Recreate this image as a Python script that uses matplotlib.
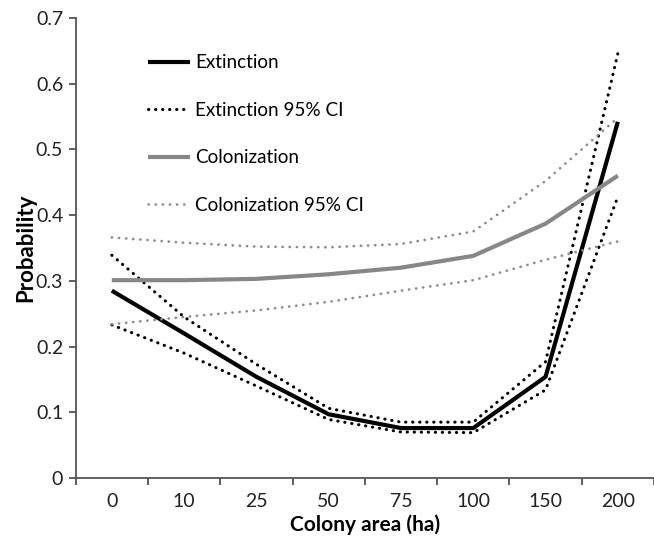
import matplotlib
matplotlib.use("Agg")
import matplotlib.pyplot as plt
import numpy as np

categories = ["0", "10", "25", "50", "75", "100", "150", "200"]
extinction = [0.285, 0.220, 0.154, 0.097, 0.076, 0.076, 0.154, 0.542]
ext_upper = [0.339, 0.245, 0.173, 0.106, 0.085, 0.085, 0.177, 0.646]
ext_lower = [0.233, 0.190, 0.140, 0.089, 0.070, 0.069, 0.134, 0.428]
colonization = [0.301, 0.301, 0.303, 0.310, 0.320, 0.338, 0.387, 0.460]
col_upper = [0.366, 0.358, 0.352, 0.351, 0.356, 0.375, 0.452, 0.548]
col_lower = [0.234, 0.245, 0.255, 0.268, 0.285, 0.301, 0.332, 0.360]

plt.rcParams['font.family'] = ['Lato', 'DejaVu Sans']

fig = plt.figure(figsize=(6.54, 5.4), dpi=100)
ax = fig.add_axes([0.1157, 0.1148, 0.8843, 0.852])

x = np.arange(len(categories))
dot = (0, (0.1, 2.2))
ax.plot(x, extinction, color='black', lw=3.0, label='Extinction', solid_capstyle='butt')
ax.plot(x, ext_upper, color='black', lw=2.2, ls=dot, dash_capstyle='round', label='Extinction 95% CI')
ax.plot(x, ext_lower, color='black', lw=2.2, ls=dot, dash_capstyle='round')
ax.plot(x, colonization, color='#878787', lw=3.0, label='Colonization', solid_capstyle='butt')
ax.plot(x, col_upper, color='#8c8c8c', lw=1.9, ls=(0, (0.1, 2.6)), dash_capstyle='round', label='Colonization 95% CI')
ax.plot(x, col_lower, color='#8c8c8c', lw=1.9, ls=(0, (0.1, 2.6)), dash_capstyle='round')

ax.set_xlim(-0.5, len(categories) - 0.5)
ax.set_ylim(0, 0.7)
ax.set_yticks(np.arange(0, 0.71, 0.1))
ax.set_yticklabels(['0', '0.1', '0.2', '0.3', '0.4', '0.5', '0.6', '0.7'])
ax.set_xticks(np.arange(-0.5, len(categories), 1.0))
ax.set_xticklabels([])
ax.set_xticks(x, minor=True)
ax.set_xticklabels(categories, minor=True)
ax.tick_params(axis='x', which='minor', length=0, pad=11, labelsize=14, colors='#222222')
ax.tick_params(axis='x', which='major', length=5, width=1.2, color='#444444', direction='out')
ax.tick_params(axis='y', length=5, width=1.2, color='#444444', direction='out', labelsize=14, pad=4)
for lbl in ax.get_yticklabels():
    lbl.set_color('#222222')

for s in ['top', 'right']:
    ax.spines[s].set_visible(False)
for s in ['left', 'bottom']:
    ax.spines[s].set_color('#555555')
    ax.spines[s].set_linewidth(1.3)

ax.set_xlabel('Colony area (ha)', fontsize=15, fontweight='bold', labelpad=3)
ax.set_ylabel('Probability', fontsize=16, fontweight='bold', labelpad=0)

leg = ax.legend(loc='upper left', bbox_to_anchor=(0.0957, 0.958), frameon=False, fontsize=13.6,
                handlelength=2.2, handletextpad=0.3, labelspacing=1.62)

fig.savefig('out.png', dpi=100)
